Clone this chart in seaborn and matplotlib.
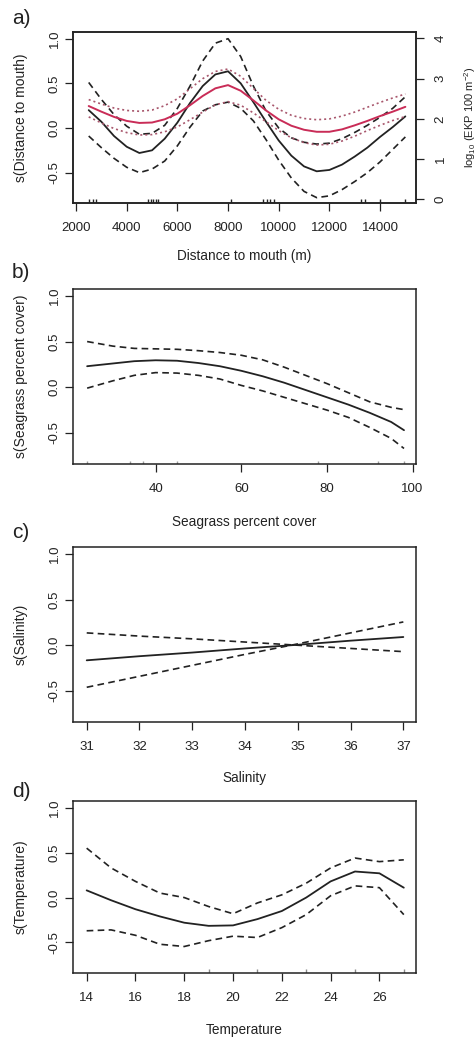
import matplotlib
matplotlib.use("Agg")
import matplotlib.pyplot as plt
import seaborn as sns

sns.set_theme(style="ticks")
plt.rcParams["font.family"] = ["Liberation Sans", "DejaVu Sans"]
plt.rcParams["axes.unicode_minus"] = False
plt.rcParams["mathtext.default"] = "regular"

INK = "#222222"
RED = "#c92c57"
RED_CI = "#a8566c"

# ---- a) distance to mouth: GAM smooth (left axis) and mean log10 EKP (right axis)
distance = [2500, 3000, 3500, 4000, 4500, 5000, 5500, 6000, 6500, 7000, 7500, 8000, 8500,
            9000, 9500, 10000, 10500, 11000, 11500, 12000, 12500, 13000, 13500, 14000,
            14500, 15000]
dist_fit = [0.20, 0.07, -0.09, -0.21, -0.28, -0.25, -0.12, 0.06, 0.28, 0.47, 0.60, 0.635, 0.50,
            0.29, 0.07, -0.14, -0.31, -0.43, -0.485, -0.47, -0.41, -0.32, -0.22, -0.10,
            0.01, 0.13]
dist_upper = [0.51, 0.32, 0.15, 0.02, -0.07, -0.06, 0.03, 0.22, 0.47, 0.75, 0.95, 1.00, 0.80,
              0.47, 0.19, 0.00, -0.11, -0.16, -0.18, -0.17, -0.12, -0.05, 0.03, 0.12,
              0.22, 0.35]
dist_lower = [-0.09, -0.22, -0.34, -0.44, -0.50, -0.46, -0.37, -0.20, 0.01, 0.19, 0.26, 0.29, 0.22,
              0.08, -0.13, -0.36, -0.56, -0.71, -0.78, -0.76, -0.69, -0.60, -0.50, -0.38,
              -0.24, -0.10]
ekp_mean = [2.32, 2.18, 2.05, 1.95, 1.90, 1.91, 1.99, 2.13, 2.34, 2.57, 2.76, 2.84, 2.70,
            2.46, 2.21, 1.99, 1.83, 1.73, 1.68, 1.68, 1.74, 1.84, 1.95, 2.07, 2.18, 2.30]
ekp_upper = [2.48, 2.37, 2.27, 2.21, 2.19, 2.22, 2.33, 2.50, 2.75, 3.00, 3.18, 3.24, 3.06,
             2.76, 2.46, 2.24, 2.09, 2.01, 1.98, 2.00, 2.07, 2.17, 2.29, 2.41, 2.52, 2.62]
ekp_lower = [2.05, 1.90, 1.76, 1.66, 1.60, 1.61, 1.68, 1.80, 1.98, 2.17, 2.35, 2.43, 2.34,
             2.15, 1.93, 1.71, 1.53, 1.41, 1.35, 1.37, 1.45, 1.57, 1.71, 1.84, 1.96, 2.06]
dist_rug = [2500, 2650, 2800, 4850, 4950, 5050, 5150, 5250, 8100, 9400, 9550, 9650, 9800,
            13250, 13400, 14000, 15000]

# ---- b) seagrass percent cover
seagrass = [24, 30, 35, 40, 45, 50, 55, 60, 65, 70, 75, 80, 85, 90, 95, 98]
sea_fit = [0.23, 0.26, 0.285, 0.295, 0.29, 0.265, 0.23, 0.18, 0.12, 0.05, -0.03, -0.11,
           -0.19, -0.28, -0.38, -0.47]
sea_upper = [0.50, 0.45, 0.425, 0.42, 0.415, 0.40, 0.38, 0.35, 0.30, 0.22, 0.13, 0.04,
             -0.06, -0.16, -0.22, -0.245]
sea_lower = [-0.01, 0.07, 0.13, 0.16, 0.155, 0.13, 0.09, 0.02, -0.04, -0.11, -0.18, -0.25,
             -0.33, -0.44, -0.56, -0.67]
sea_rug = [24, 34, 37, 45, 78, 92, 98]

# ---- c) salinity
salinity = [31, 32, 33, 34, 35, 36, 37]
sal_fit = [-0.165, -0.12, -0.08, -0.035, 0.005, 0.05, 0.09]
sal_ci_a = [0.135, 0.10, 0.07, 0.035, 0.0, -0.035, -0.07]
sal_ci_b = [-0.46, -0.34, -0.22, -0.10, 0.015, 0.135, 0.255]

# ---- d) temperature
temperature = [14, 15, 16, 17, 18, 19, 20, 21, 22, 23, 24, 25, 26, 27]
temp_fit = [0.08, -0.03, -0.13, -0.21, -0.28, -0.315, -0.31, -0.24, -0.15, 0.0, 0.18, 0.29,
            0.27, 0.11]
temp_upper = [0.55, 0.33, 0.18, 0.05, 0.0, -0.10, -0.18, -0.06, 0.03, 0.16, 0.33, 0.44,
              0.40, 0.42]
temp_lower = [-0.37, -0.36, -0.42, -0.52, -0.545, -0.48, -0.43, -0.445, -0.335, -0.19,
              0.02, 0.13, 0.11, -0.19]
temp_rug = [19, 21, 23, 25, 27]

W, H = 477, 1041
fig = plt.figure(figsize=(W / 100, H / 100), dpi=100)

DASH = (0, (4, 2.6))
DOT = (0, (1.2, 1.8))


def panel(top_px, bottom_px):
    return fig.add_axes([73 / W, 1 - bottom_px / H, (416 - 73) / W, (bottom_px - top_px) / H])


def style(ax, xlim, xticks, xlabel, ylabel, xlab_off):
    ax.set_xlim(*xlim)
    ax.set_ylim(-0.84, 1.075)
    ax.set_xticks(xticks)
    ax.set_xticklabels([str(t) for t in xticks])
    ax.set_yticks([-0.5, 0.0, 0.5, 1.0])
    ax.set_yticklabels(["-0.5", "0.0", "0.5", "1.0"])
    for sp in ax.spines.values():
        sp.set_visible(True)
        sp.set_color(INK)
        sp.set_linewidth(1.1)
    ax.tick_params(axis="both", direction="out", length=5.5, width=0.9, color=INK,
                   labelcolor=INK, bottom=True, left=True, top=False, right=False)
    ax.tick_params(axis="x", pad=8, labelsize=9.5)
    ax.tick_params(axis="y", pad=3.5, labelsize=9.5, labelrotation=90)
    for lab in ax.get_yticklabels():
        lab.set_va("center")
    ax.set_xlabel(xlabel, fontsize=9.8, color=INK)
    ax.xaxis.set_label_coords(0.5, xlab_off)
    ax.xaxis.label.set_va("center")
    ax.set_ylabel(ylabel, fontsize=10, color=INK)
    ax.yaxis.set_label_coords(-0.1516, 0.5)
    ax.yaxis.label.set_va("center")
    ax.grid(False)


def smooth(ax, x, fit, ci1, ci2):
    sns.lineplot(x=x, y=fit, ax=ax, color=INK, lw=1.3)
    sns.lineplot(x=x, y=ci1, ax=ax, color=INK, lw=1.2, linestyle=DASH)
    sns.lineplot(x=x, y=ci2, ax=ax, color=INK, lw=1.2, linestyle=DASH)


def letter(y_px, s):
    fig.text(12 / W, 1 - y_px / H, s, fontsize=15, va="top", ha="left", color=INK)


# a)
ax_a = panel(32, 203)
smooth(ax_a, distance, dist_fit, dist_upper, dist_lower)
sns.rugplot(x=dist_rug, ax=ax_a, height=0.025, color=INK, lw=1.2)
style(ax_a, (1880, 15420), [2000, 4000, 6000, 8000, 10000, 12000, 14000],
      "Distance to mouth (m)", "s(Distance to mouth)", -53 / 171)
ax_r = ax_a.twinx()
sns.lineplot(x=distance, y=ekp_mean, ax=ax_r, color=RED, lw=1.4)
sns.lineplot(x=distance, y=ekp_upper, ax=ax_r, color=RED_CI, lw=1.2, linestyle=DOT)
sns.lineplot(x=distance, y=ekp_lower, ax=ax_r, color=RED_CI, lw=1.2, linestyle=DOT)
ax_r.set_ylim(-0.09, 4.16)
ax_r.set_yticks([0, 1, 2, 3, 4])
ax_r.set_yticklabels(["0", "1", "2", "3", "4"])
ax_r.tick_params(axis="y", direction="out", length=5.5, width=0.9, color=INK, labelcolor=INK,
                 right=True, left=False, pad=8, labelsize=9.5, labelrotation=90)
for lab in ax_r.get_yticklabels():
    lab.set_va("center")
for sp in ax_r.spines.values():
    sp.set_color(INK)
    sp.set_linewidth(1.1)
ax_r.set_ylabel("log$_{10}$ (EKP 100 m$^{-2}$)", fontsize=8, color=INK)
ax_r.yaxis.set_label_coords(1.157, 0.5)
ax_r.yaxis.label.set_va("center")
ax_r.grid(False)
letter(9, "a)")

# b)
ax_b = panel(289, 464)
smooth(ax_b, seagrass, sea_fit, sea_upper, sea_lower)
sns.rugplot(x=sea_rug, ax=ax_b, height=0.02, color="#9a9a9a", lw=0.9)
style(ax_b, (20.7, 100.8), [40, 60, 80, 100], "Seagrass percent cover",
      "s(Seagrass percent cover)", -57.7 / 175)
letter(263, "b)")

# c)
ax_c = panel(547, 722)
smooth(ax_c, salinity, sal_fit, sal_ci_a, sal_ci_b)
style(ax_c, (30.74, 37.24), [31, 32, 33, 34, 35, 36, 37], "Salinity", "s(Salinity)", -56 / 175)
letter(523, "c)")

# d)
ax_d = panel(801, 973)
smooth(ax_d, temperature, temp_fit, temp_upper, temp_lower)
sns.rugplot(x=temp_rug, ax=ax_d, height=0.025, color="#8a8a8a", lw=0.9)
style(ax_d, (13.44, 27.5), [14, 16, 18, 20, 22, 24, 26], "Temperature", "s(Temperature)",
      -57 / 172)
letter(782, "d)")

fig.savefig("out.png", dpi=100, facecolor="white")
